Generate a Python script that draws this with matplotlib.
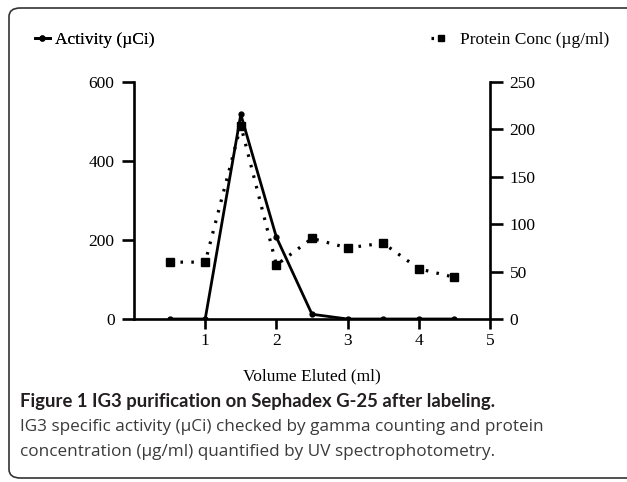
import matplotlib.pyplot as plt
from matplotlib.patches import FancyBboxPatch
from matplotlib.lines import Line2D

# data
volume = [0.5, 1.0, 1.5, 2.0, 2.5, 3.0, 3.5, 4.0, 4.5]
activity = [0, 0, 518, 207, 12, 0, 0, 0, 0]          # µCi, left axis
protein = [60, 60, 204, 57, 85, 75, 80, 53, 44]      # µg/ml, right axis

x_ticks = [1, 2, 3, 4, 5]
left_ticks = [0, 200, 400, 600]
right_ticks = [0, 50, 100, 150, 200, 250]

SERIF = "Liberation Serif"
SANS = "Open Sans"
DOTS = (0, (0.8, 2.6))
FS = 12.5

fig = plt.figure(figsize=(6.27, 4.82), dpi=100)

# rounded frame around the figure panel (runs off the right edge)
frame = FancyBboxPatch((9 / 627, 4 / 482), 640 / 627, 470 / 482,
                       boxstyle="round,pad=0,rounding_size=0.018",
                       transform=fig.transFigure, fill=False,
                       edgecolor="#333333", linewidth=1.2)
fig.patches.append(frame)

ax = fig.add_axes([134 / 627, 1 - 319 / 482, (490 - 134) / 627, (319 - 82) / 482])
ax2 = ax.twinx()

ax.plot(volume, activity, color="black", lw=2.0, marker="o", ms=3.5,
        solid_joinstyle="miter", zorder=3)
ax2.plot(volume, protein, color="black", lw=2.3, linestyle=DOTS,
         marker="s", ms=5.5, zorder=2)

ax.set_xlim(0, 5)
ax.set_ylim(0, 600)
ax2.set_ylim(0, 250)
ax.set_xticks(x_ticks)
ax.set_yticks(left_ticks)
ax2.set_yticks(right_ticks)

for a in (ax, ax2):
    a.spines["top"].set_visible(False)
    for s in a.spines.values():
        s.set_linewidth(1.9)
ax.spines["right"].set_visible(False)
ax2.spines["left"].set_visible(False)
ax2.spines["bottom"].set_visible(False)

ax.tick_params(axis="y", direction="out", length=9, width=1.9, pad=5, labelsize=FS)
ax.tick_params(axis="x", direction="out", length=7, width=1.9, pad=3, labelsize=FS)
ax2.tick_params(axis="y", direction="out", length=9, width=1.9, pad=5, labelsize=FS)
for lab in ax.get_xticklabels() + ax.get_yticklabels() + ax2.get_yticklabels():
    lab.set_fontfamily(SERIF)

ax.set_xlabel("Volume Eluted (ml)", fontsize=FS, family=SERIF, labelpad=14)

# legend entries at the top of the panel
h1 = Line2D([], [], color="black", lw=2.0, marker="o", ms=3.5)
h2 = Line2D([], [], color="black", lw=2.3, linestyle=DOTS, marker="s", ms=5)
leg1 = fig.legend([h1], ["Activity (µCi)"], loc="center left",
                  bbox_to_anchor=(19 / 627, 1 - 40 / 482), frameon=False,
                  handlelength=0.9, handletextpad=0.3,
                  prop={"family": SERIF, "size": FS})
fig.add_artist(leg1)
fig.legend([h2], ["Protein Conc (µg/ml)"], loc="center left",
           bbox_to_anchor=(415 / 627, 1 - 40 / 482), frameon=False,
           handlelength=1.2, handletextpad=0.5,
           prop={"family": SERIF, "size": FS})

# caption
fig.text(20 / 627, 1 - 401 / 482, "Figure 1 IG3 purification on Sephadex G-25 after labeling.",
         family="Lato", weight="bold", fontsize=13.3, color="#231f20", va="center")
fig.text(20 / 627, 1 - 427 / 482,
         "IG3 specific activity (µCi) checked by gamma counting and protein",
         family=SANS, fontsize=12.3, color="#3a3a3a", va="center")
fig.text(20 / 627, 1 - 452 / 482,
         "concentration (µg/ml) quantified by UV spectrophotometry.",
         family=SANS, fontsize=12.3, color="#3a3a3a", va="center")

fig.savefig("out.png", dpi=100)
